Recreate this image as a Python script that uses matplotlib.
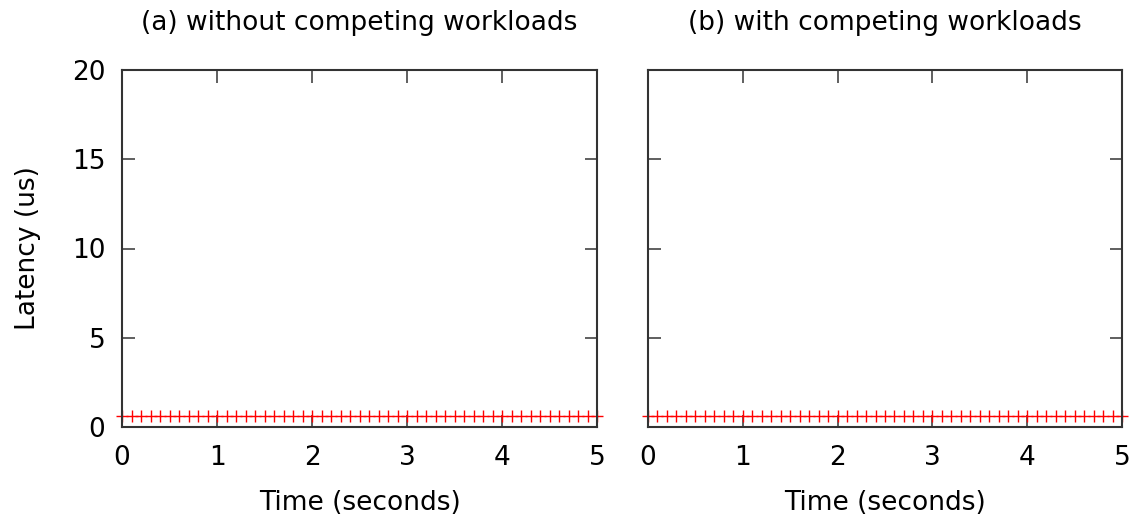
import matplotlib
matplotlib.use("Agg")
import matplotlib.pyplot as plt

# sample times (s) and measured latency (us)
time_s = [0.0, 0.1, 0.2, 0.3, 0.4, 0.5, 0.6, 0.7, 0.8, 0.9,
          1.0, 1.1, 1.2, 1.3, 1.4, 1.5, 1.6, 1.7, 1.8, 1.9,
          2.0, 2.1, 2.2, 2.3, 2.4, 2.5, 2.6, 2.7, 2.8, 2.9,
          3.0, 3.1, 3.2, 3.3, 3.4, 3.5, 3.6, 3.7, 3.8, 3.9,
          4.0, 4.1, 4.2, 4.3, 4.4, 4.5, 4.6, 4.7, 4.8, 4.9, 5.0]
lat_without = [0.6] * 51
lat_with = [0.6, 0.6, 0.63, 0.6, 0.6, 0.6, 0.6, 0.6, 0.6, 0.6,
            0.6, 0.6, 0.6, 0.6, 0.6, 0.6, 0.6, 0.6, 0.6, 0.6,
            0.6, 0.6, 0.6, 0.6, 0.6, 0.6, 0.6, 0.6, 0.6, 0.6,
            0.6, 0.6, 0.6, 0.6, 0.6, 0.6, 0.6, 0.6, 0.6, 0.6,
            0.6, 0.6, 0.6, 0.6, 0.6, 0.6, 0.6, 0.6, 0.6, 0.6, 0.6]
titles = ["(a) without competing workloads", "(b) with competing workloads"]

plt.rcParams["font.family"] = "DejaVu Sans"
fig = plt.figure(figsize=(11.33, 5.19), dpi=100)
W, H = 1133, 519
boxes = [(122, 597), (648, 1122)]
top, bot = 70, 427
FS = 19

for i, ((x0, x1), lat) in enumerate(zip(boxes, [lat_without, lat_with])):
    ax = fig.add_axes([x0 / W, 1 - bot / H, (x1 - x0) / W, (bot - top) / H])
    ax.plot(time_s, lat, "+", color="red", ms=8, mew=1.0, clip_on=False)
    ax.set_xlim(0, 5)
    ax.set_ylim(0, 20)
    ax.set_xticks(range(0, 6))
    ax.set_yticks(range(0, 21, 5))
    ax.tick_params(direction="in", top=True, right=True, length=9,
                   width=1.2, labelsize=FS, colors="#444444",
                   labelcolor="black")
    ax.tick_params(axis="x", pad=13)
    ax.tick_params(axis="y", pad=12)
    for s in ax.spines.values():
        s.set_linewidth(1.5)
        s.set_color("#333333")
    ax.set_xlabel("Time (seconds)", fontsize=FS, labelpad=14)
    ax.set_title(titles[i], fontsize=FS, pad=29)
    if i == 0:
        ax.set_ylabel("Latency (us)", fontsize=FS, labelpad=22)
    else:
        ax.set_yticklabels([])

fig.savefig("out.png", dpi=100)
